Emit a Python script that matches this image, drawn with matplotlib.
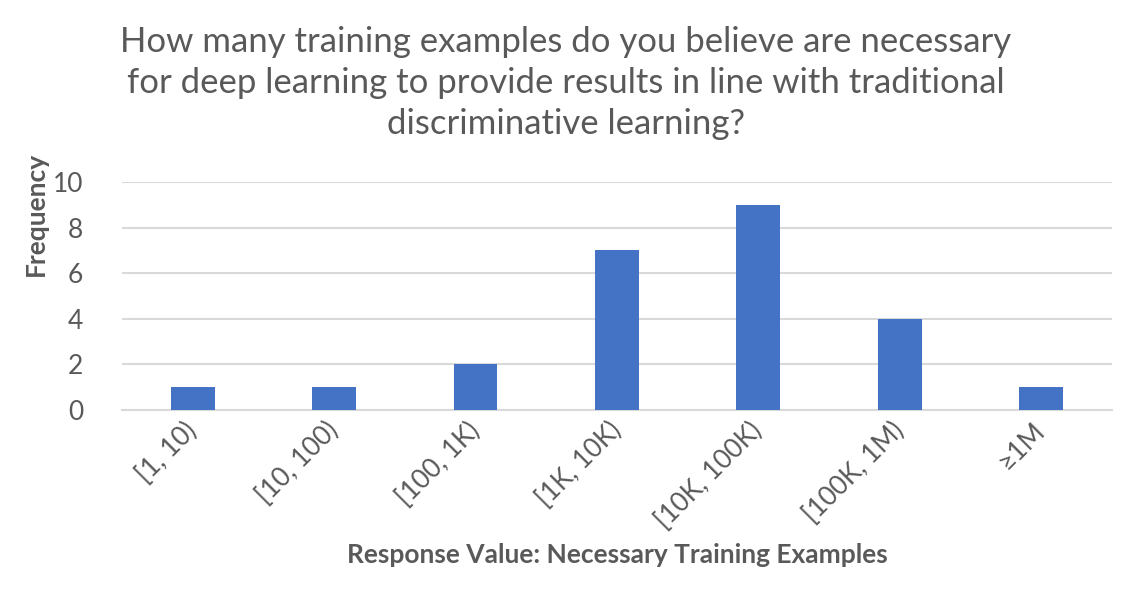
import matplotlib.pyplot as plt

# survey responses
bins = ["[1, 10)", "[10, 100)", "[100, 1K)", "[1K, 10K)", "[10K, 100K)", "[100K, 1M)", "\u22651M"]
counts = [1, 1, 2, 7, 9, 4, 1]
yticks = [0, 2, 4, 6, 8, 10]

grey = "#595959"
blue = "#4472C4"

plt.rcParams['font.family'] = ['Lato', 'DejaVu Sans']

fig = plt.figure(figsize=(11.32, 5.93), dpi=100)
ax = fig.add_axes([0.1078, 0.3086, 0.8745, 0.3845])

x = list(range(len(bins)))
ax.bar(x, counts, width=0.31, color=blue, zorder=3)

ax.set_xlim(-0.5, len(bins) - 0.5)
ax.set_ylim(0, 10)
ax.set_yticks(yticks)
ax.set_xticks(x)
ax.set_xticklabels(bins, rotation=45, ha='right', va='center', rotation_mode='anchor')
ax.tick_params(axis='both', length=0, labelsize=19, colors=grey)
ax.tick_params(axis='x', pad=12)
ax.tick_params(axis='y', pad=28)

ax.grid(axis='y', color='#d9d9d9', linewidth=1.5, zorder=0)
for s in ['top', 'right', 'left']:
    ax.spines[s].set_visible(False)
ax.spines['bottom'].set_color('#d9d9d9')
ax.spines['bottom'].set_linewidth(1.5)

fig.text(0.5, 0.86, "How many training examples do you believe are necessary\n"
         "for deep learning to provide results in line with traditional\n"
         "discriminative learning?", ha='center', va='center',
         fontsize=25, color=grey, linespacing=1.35)

fig.text(0.032, 0.639, "Frequency", rotation=90, ha='center', va='center',
         fontsize=19, fontweight='bold', color=grey)
fig.text(0.545, 0.064, "Response Value: Necessary Training Examples", ha='center', va='center',
         fontsize=19, fontweight='bold', color=grey)

fig.savefig("out.png", dpi=100)
